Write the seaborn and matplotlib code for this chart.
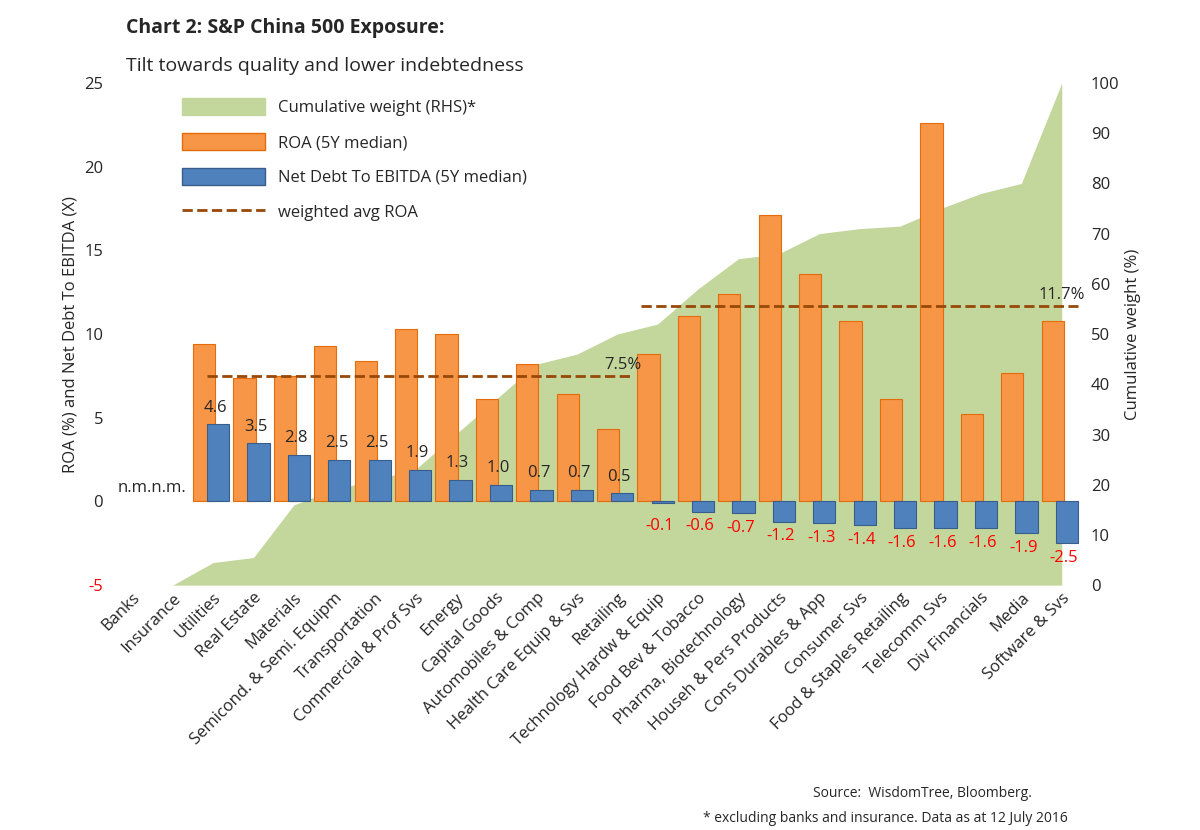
import pandas as pd
import numpy as np
import seaborn as sns
from matplotlib import pyplot as plt
from matplotlib.patches import Patch
from matplotlib.lines import Line2D

sectors = ['Banks', 'Insurance', 'Utilities', 'Real Estate', 'Materials', 'Semicond. & Semi. Equipm',
           'Transportation', 'Commercial & Prof Svs', 'Energy', 'Capital Goods', 'Automobiles & Comp',
           'Health Care Equip & Svs', 'Retailing', 'Technology Hardw & Equip', 'Food Bev & Tobacco',
           'Pharma, Biotechnology', 'Househ & Pers Products', 'Cons Durables & App', 'Consumer Svs',
           'Food & Staples Retailing', 'Telecomm Svs', 'Div Financials', 'Media', 'Software & Svs']
roa = [np.nan, np.nan, 9.4, 7.4, 7.5, 9.3, 8.4, 10.3, 10.0, 6.1, 8.2, 6.4, 4.3, 8.8, 11.1,
       12.4, 17.1, 13.6, 10.8, 6.1, 22.6, 5.2, 7.7, 10.8]
net_debt = [np.nan, np.nan, 4.6, 3.5, 2.8, 2.5, 2.5, 1.9, 1.3, 1.0, 0.7, 0.7, 0.5, -0.1, -0.6,
            -0.7, -1.2, -1.3, -1.4, -1.6, -1.6, -1.6, -1.9, -2.5]
cum_weight = [0, 0, 4.5, 5.5, 16, 19, 21, 23, 30, 37, 44, 46, 50, 52, 59, 65, 66, 70, 71, 71.5,
              75, 78, 80, 100]
avg_roa_1 = 7.5   # Utilities..Retailing
avg_roa_2 = 11.7  # Technology..Software

orange = '#F79646'
blue = '#4F81BD'
green = '#C3D69B'
brown = '#984807'

sns.set_style('white')
plt.rcParams['font.family'] = ['Open Sans', 'DejaVu Sans']

fig, ax = plt.subplots(figsize=(12, 8.3), dpi=100)
fig.subplots_adjust(left=0.09, right=0.905, top=0.9, bottom=0.295)
ax2 = ax.twinx()
ax.set_zorder(ax2.get_zorder() + 1)
ax.patch.set_visible(False)

x = np.arange(len(sectors))
ax2.fill_between(x, 0, cum_weight, color=green, lw=0)
ax2.set_ylim(0, 100)
ax2.set_yticks(range(0, 101, 10))
ax2.set_ylabel('Cumulative weight (%)', fontsize=12)

df = pd.DataFrame({'sector': sectors * 2,
                   'value': roa + net_debt,
                   'series': ['ROA'] * len(sectors) + ['ND'] * len(sectors)})
sns.barplot(data=df, x='sector', y='value', hue='series', palette=[orange, blue],
            dodge=True, width=1.0, ax=ax, legend=False, saturation=1)
for p in ax.containers[0]:
    p.set_width(0.55); p.set_x(p.get_x() + 0.0)
    p.set_edgecolor('#E46C0A'); p.set_linewidth(0.8)
for p in ax.containers[1]:
    p.set_width(0.55); p.set_x(p.get_x() - 0.15)
    p.set_edgecolor('#385D8A'); p.set_linewidth(0.8)

for i, v in enumerate(net_debt):
    if np.isnan(v):
        continue
    if v >= 0:
        ax.text(i + 0.05, v + 0.5, f'{v:.1f}', ha='center', va='bottom', fontsize=12)
    else:
        ax.text(i + 0.05, min(v, -0.6) - 0.4, f'{v:.1f}', ha='center', va='top', fontsize=12, color='red')
ax.text(0.5, 0.3, 'n.m.n.m.', ha='center', va='bottom', fontsize=12)

ax.hlines(avg_roa_1, 1.85, 12.4, colors=brown, linestyles='--', lw=2)
ax.hlines(avg_roa_2, 12.6, 23.4, colors=brown, linestyles='--', lw=2)
ax.text(12.15, avg_roa_1 + 0.4, '7.5%', fontsize=12, ha='center')
ax.text(23.0, avg_roa_2 + 0.4, '11.7%', fontsize=12, ha='center')

ax.set_ylim(-5, 25)
ax.set_yticks(range(-5, 26, 5))
ax.set_yticklabels(['-5' if t < 0 else str(t) for t in range(-5, 26, 5)])
for lbl in ax.get_yticklabels():
    if lbl.get_text() == '-5':
        lbl.set_color('red')
ax.set_xlim(-0.6, 23.6)
ax.set_xlabel('')
ax.set_ylabel('ROA (%) and Net Debt To EBITDA (X)', fontsize=12)
ax.set_xticks(x)
ax.set_xticklabels(sectors, rotation=45, ha='right', rotation_mode='anchor', fontsize=12)
ax.tick_params(axis='y', labelsize=12, length=0)
ax2.tick_params(axis='y', labelsize=12, length=0)
ax.tick_params(axis='x', length=0)
for a in (ax, ax2):
    for s in a.spines.values():
        s.set_visible(False)

handles = [Patch(color=green, label='Cumulative weight (RHS)*'),
           Patch(facecolor=orange, edgecolor='#E46C0A', label='ROA (5Y median)'),
           Patch(facecolor=blue, edgecolor='#385D8A', label='Net Debt To EBITDA (5Y median)'),
           Line2D([0], [0], color=brown, ls='--', lw=2, label='weighted avg ROA')]
ax.legend(handles=handles, loc='upper left', bbox_to_anchor=(0.06, 1.0), frameon=False,
          fontsize=12, handlelength=5, handleheight=1.2, labelspacing=1.0)

fig.text(0.105, 0.96, 'Chart 2: S&P China 500 Exposure:', fontsize=14, fontweight='bold')
fig.text(0.105, 0.915, 'Tilt towards quality and lower indebtedness', fontsize=14)
fig.text(0.86, 0.04, 'Source:  WisdomTree, Bloomberg.', fontsize=10, ha='right')
fig.text(0.89, 0.01, '* excluding banks and insurance. Data as at 12 July 2016', fontsize=10, ha='right')

plt.savefig('out.png')
